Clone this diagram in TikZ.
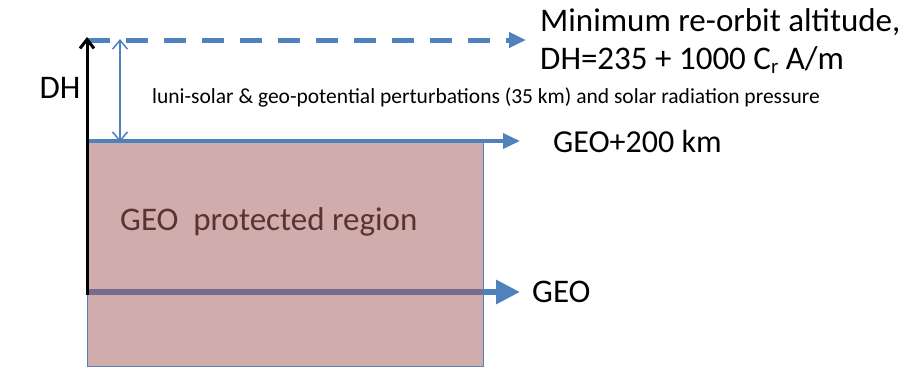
\documentclass[tikz,border=0pt]{standalone}
\usepackage{fontspec}
\setmainfont{Carlito}
\usetikzlibrary{arrows.meta, positioning}
\definecolor{geoblue}{RGB}{79,129,189}
\definecolor{geofill}{RGB}{161,89,89}
\definecolor{geotext}{RGB}{90,50,50}
\tikzset{%
  % Specifications for style of lines and nodes:
            level/.style = {draw=geoblue, line width=3.5pt,
                            -{Triangle[width=15pt,length=17pt]}},
            geolevel/.style = {draw=geoblue, line width=6pt,
                            -{Triangle[width=23pt,length=24pt]}},
            reorbit/.style = {draw=geoblue, line width=5pt, dash pattern=on 22pt off 16pt,
                            -{Triangle[width=15pt,length=17pt]}},
            span/.style = {draw=geoblue, line width=1.5pt,
                            {Straight Barb[width=15pt,length=9pt]}-{Straight Barb[width=15pt,length=9pt]}},
            rise/.style = {draw=black, line width=3pt, -{Straight Barb[width=14pt,length=9pt]}},
            region/.style = {rectangle, draw=geoblue, line width=1pt, fill=geofill,
                            fill opacity=0.5, minimum width=396pt, minimum height=225pt},
            txt/.style = {font=\fontsize{33}{38}\selectfont, inner sep=0pt, anchor=west,
                            align=left}
}

\begin{document}
\begin{tikzpicture}[x=1pt, y=-1pt]
                \useasboundingbox (0,0) rectangle (901,368);

                \coordinate (geo0) at (88,292);
                \coordinate (geo1) at (520,292);
                \coordinate (g2000) at (88,141);
                \coordinate (g2001) at (520,141);
                \coordinate (ro0) at (88,40);
                \coordinate (ro1) at (526,40);
                \coordinate (rise0) at (87,295);
                \coordinate (rise1) at (87,37);
                \coordinate (span0) at (120,142);
                \coordinate (span1) at (120,39);

                \draw[geolevel] (geo0) -- (geo1);
                \node[region] (region) at (285,254) {};
                \draw[level] (g2000) -- (g2001);
                \draw[reorbit] (ro0) -- (ro1);
                \draw[rise] (rise0) -- (rise1);
                \draw[span] (span0) -- (span1);

                \node[txt, text=geotext] (regionlabel) at (120,222) {GEO\ \ protected region};
                \node[txt, right=12pt of geo1] (geolabel) {GEO};
                \node[txt, font=\fontsize{32}{38}\selectfont, right=33pt of g2001] (g200label) {GEO+200 km};
                \node[txt, right=14pt of ro1, yshift=-1pt] (rolabel)
                    {Minimum re-orbit altitude,\\DH=235 + 1000 C\raisebox{-0.3ex}{\fontsize{21}{21}\selectfont r} A/m};
                \node[txt, anchor=center] (dh) at (60,88) {DH};
                \node[txt, font=\fontsize{21.5}{24}\selectfont] (pert) at (152,97)
                    {luni-solar \& geo-potential perturbations (35 km) and solar radiation pressure};

\end{tikzpicture}
\end{document}
